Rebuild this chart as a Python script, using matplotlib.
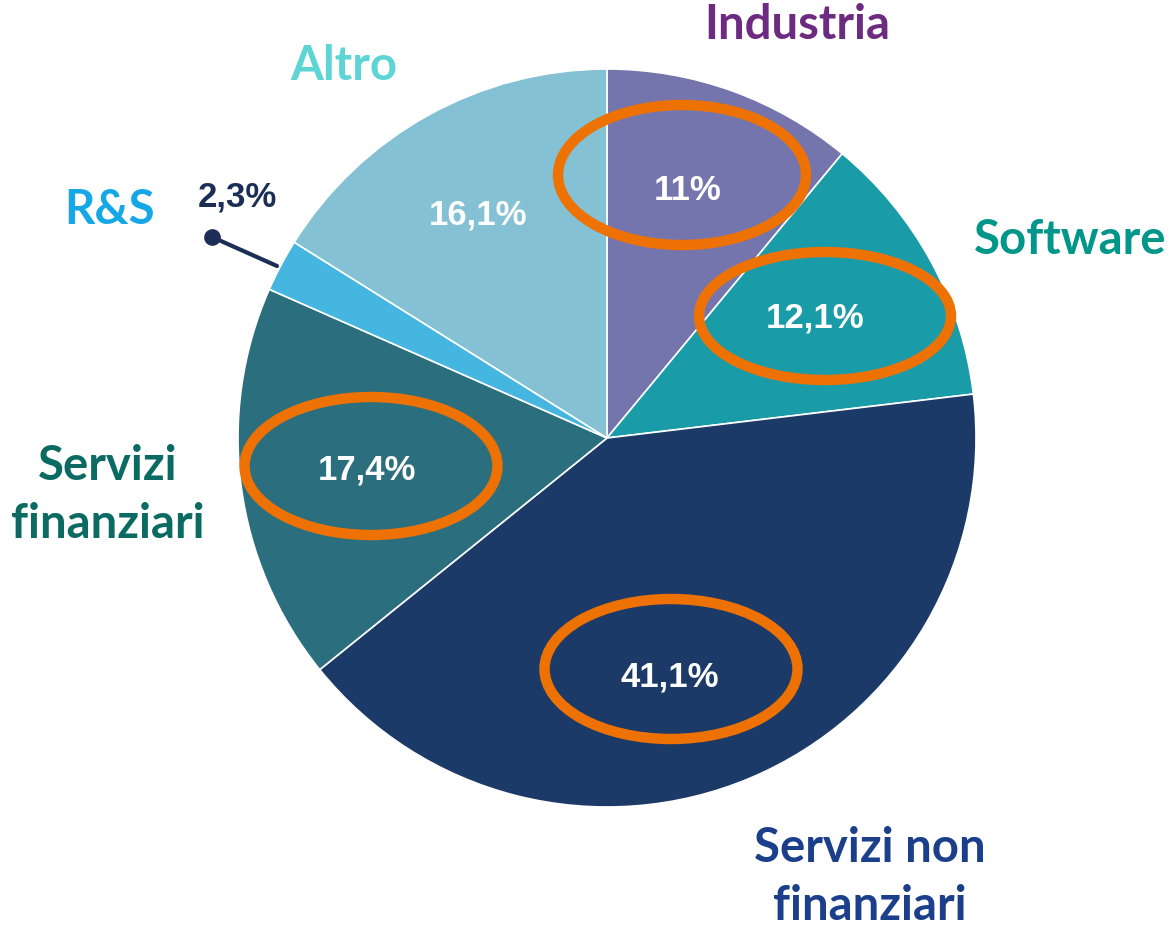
import matplotlib.pyplot as plt
from matplotlib.patches import Ellipse

# dati
settori = ['Industria', 'Software', 'Servizi non finanziari', 'Servizi finanziari', 'R&S', 'Altro']
quote = [11.0, 12.1, 41.1, 17.4, 2.3, 16.1]
etichette_pct = ['11%', '12,1%', '41,1%', '17,4%', '2,3%', '16,1%']
colori = ['#7575AE', '#1A9BA8', '#1C3A68', '#2B6E7E', '#45B6E0', '#84C1D4']
colori_testo = ['#6C2A80', '#00968A', '#1B3F8A', '#0B6B63', '#16A8E6', '#5DD5D5']
nomi_label = ['Industria', 'Software', 'Servizi non\nfinanziari', 'Servizi\nfinanziari', 'R&S', 'Altro']

W, H = 1175, 932
fig = plt.figure(figsize=(W / 100, H / 100), dpi=100)
ax = fig.add_axes([0, 0, 1, 1])

def py(y):
    # da pixel (dall'alto) a coordinate assi
    return H - y

ax.pie(quote, colors=colori, startangle=90, counterclock=False,
       center=(607, py(438)), radius=369, frame=True,
       wedgeprops=dict(edgecolor='white', linewidth=1.2))
ax.set_xlim(0, W)
ax.set_ylim(0, H)
ax.set_aspect('equal')
ax.axis('off')

# percentuali dentro le fette
pos_pct = {0: (688, 190), 1: (815, 318), 2: (670, 677), 3: (367, 470), 5: (478, 215)}
for i, (x, y) in pos_pct.items():
    ax.text(x, py(y), etichette_pct[i], color='white', fontsize=25, fontweight='bold',
            family='Liberation Sans', ha='center', va='center')

# R&S con linea guida
ax.text(237, py(197), etichette_pct[4], color='#1C2E55', fontsize=25, fontweight='bold',
        family='Liberation Sans', ha='center', va='center')
ax.plot([212, 277], [py(237), py(266)], color='#1C2E55', lw=3, solid_capstyle='round')
ax.plot([212], [py(237)], 'o', color='#1C2E55', ms=11)

# nomi dei settori
pos_nomi = {0: (797, 25), 1: (1070, 240), 2: (870, 877), 3: (108, 495), 4: (110, 210), 5: (344, 66)}
for i, (x, y) in pos_nomi.items():
    ax.text(x, py(y), nomi_label[i], color=colori_testo[i], fontsize=34, fontweight='bold',
            family='Lato', ha='center', va='center', linespacing=1.4)

# ellissi arancioni
ellissi = [(682, 175, 258, 150), (825, 316, 262, 138), (371, 466, 263, 148), (671, 669, 263, 150)]
for cx, cy, w, h in ellissi:
    ax.add_patch(Ellipse((cx, py(cy)), w - 10, h - 10, fill=False, edgecolor='#EE7203', lw=7.5))

fig.savefig('out.png', dpi=100)
